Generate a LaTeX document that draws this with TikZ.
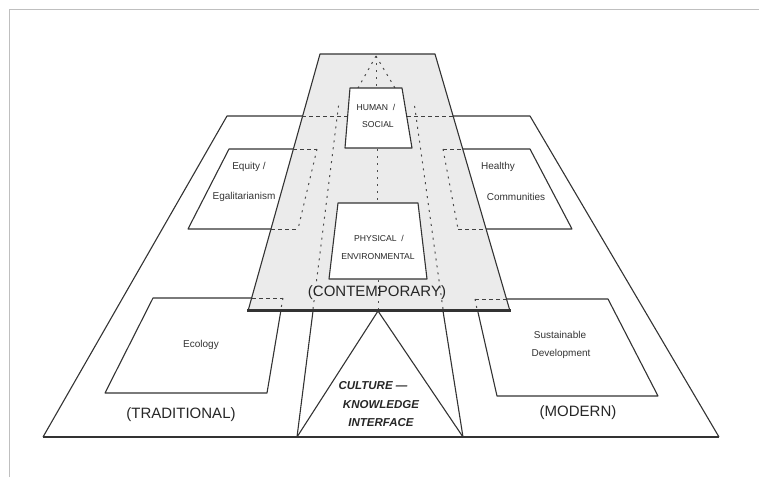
\documentclass[tikz,border=0pt]{standalone}
\usepackage{fontspec}
\setmainfont{Liberation Sans}
\begin{document}
\begin{tikzpicture}[x=1pt,y=-1pt,
  ln/.style={draw=black!80,line width=1.1pt,line join=round},
  hid/.style={draw=black!75,line width=0.9pt,dash pattern=on 4pt off 3pt},
  dotl/.style={draw=black!70,line width=1.0pt,dash pattern=on 2pt off 5pt},
  big/.style={font=\fontsize{15}{17}\selectfont,text=black!85},
  sml/.style={font=\fontsize{10}{12}\selectfont,text=black!80},
  capt/.style={font=\fontsize{8.6}{10}\selectfont,text=black!85},
  cul/.style={font=\fontsize{11.5}{13}\selectfont\bfseries\itshape,text=black!85}]
\useasboundingbox (0,0) rectangle (759,477);
% faint frame of the scan
\draw[black!25,line width=1pt] (9,477) -- (9,9) -- (759,9);
% base plane
\draw[ln] (43,437) -- (227,116) -- (530,116) -- (719,437);
\draw[ln,line width=2.2pt] (43,437) -- (297,437);
\draw[ln,line width=2.2pt] (463,437) -- (719,437);
\draw[ln] (297,437) -- (463,437);
% culture column and triangle
\draw[ln] (313,311) -- (297,437);
\draw[ln] (443,311) -- (463,437);
\draw[ln] (297,437) -- (378,311) -- (463,437);
% side boxes
\draw[ln] (229,149) -- (317,149) -- (298,229) -- (188,229) -- cycle;
\draw[ln] (443,149) -- (530,149) -- (572,229) -- (458,229) -- cycle;
\draw[ln] (153,298) -- (283,298) -- (267,393) -- (105,393) -- cycle;
\draw[ln] (475,299) -- (608,299) -- (658,396) -- (497,396) -- cycle;
% contemporary band
\fill[black!8] (320,54) -- (435,54) -- (510,311) -- (248,311) -- cycle;
\draw[ln] (248,311) -- (320,54) -- (435,54) -- (510,311);
\draw[ln,line width=2.4pt] (247,310.5) -- (511,310.5);
% hidden lines under the band
\draw[hid] (302,116) -- (347,116);
\draw[hid] (407,116) -- (453,116);
\draw[hid] (293,149) -- (317,149);
\draw[hid] (271,229) -- (298,229);
\draw[hid] (443,149) -- (463,149);
\draw[hid] (458,229) -- (486,229);
\draw[hid] (252,298) -- (283,298);
\draw[hid] (475,299) -- (506,299);
\draw[dotl] (317,149) -- (298,229);
\draw[dotl] (443,149) -- (458,229);
\draw[dotl] (283,298) -- (281,309);
\draw[dotl] (475,299) -- (477,309);
\draw[dotl] (313,309) -- (339,102);
\draw[dotl] (443,309) -- (414,102);
\draw[dotl] (376,56) -- (358,88);
\draw[dotl] (376,56) -- (395,88);
\draw[dotl] (376,56) -- (376,88);
\draw[dotl] (377,149) -- (377,203);
\draw[dotl] (378,280) -- (378,309);
% central boxes
\filldraw[ln,fill=white] (350,88) -- (402,88) -- (412,148) -- (345,148) -- cycle;
\filldraw[ln,fill=white] (338,203) -- (418,203) -- (427,279) -- (329,279) -- cycle;
% texts
\node[capt] (hum) at (376,107) {HUMAN\ \ /};
\node[capt] (soc) at (378,125) {SOCIAL};
\node[capt] (phy) at (379,238) {PHYSICAL\ \ /};
\node[capt] (env) at (378,257) {ENVIRONMENTAL};
\node[sml] (eq) at (249,167) {Equity /};
\node[sml] (ega) at (244,197) {Egalitarianism};
\node[sml] (hea) at (498,167) {Healthy};
\node[sml] (com) at (516,197) {Communities};
\node[sml] (eco) at (201,345) {Ecology};
\node[sml] (sus) at (560,335) {Sustainable};
\node[sml] (dev) at (561,354) {Development};
\node[big] (con) at (377,293) {(CONTEMPORARY)};
\node[big] (tra) at (181,415) {(TRADITIONAL)};
\node[big] (mod) at (578,413) {(MODERN)};
\node[cul] (c1) at (373,386) {CULTURE —};
\node[cul] (c2) at (381,405) {KNOWLEDGE};
\node[cul] (c3) at (381,423) {INTERFACE};
\end{tikzpicture}
\end{document}
